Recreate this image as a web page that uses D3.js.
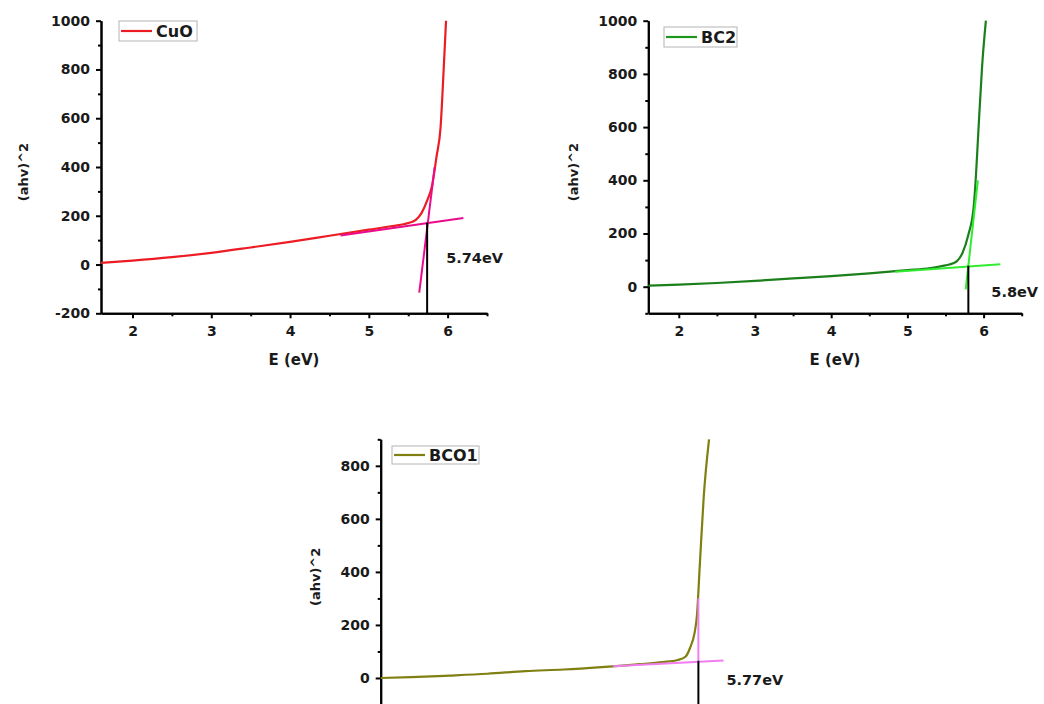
<!DOCTYPE html>
<html>
<head>
<meta charset="utf-8">
<script src="https://cdn.jsdelivr.net/npm/d3@7"></script>
<style>
  body { margin: 0; background: #fff; }
  svg text { font-family: "DejaVu Sans", "Liberation Sans", Arial, sans-serif; font-weight: bold; }
  .axis path, .axis line { stroke: #000; stroke-width: 2; }
  .axis text { font-size: 14px; fill: #1a1a1a; font-family: "DejaVu Sans", sans-serif; }
</style>
</head>
<body>
<div class="chart"></div>
<script>
// Tauc plots: (ahv)^2 vs photon energy, three samples

// CuO
var cuoE   = [1.6, 2.0, 2.5, 3.0, 3.5, 4.0, 4.5, 5.0, 5.3, 5.5, 5.6, 5.67, 5.74, 5.8, 5.86, 5.91, 5.95, 5.98];
var cuoVal = [7, 16, 30, 48, 70, 93, 118, 143, 158, 170, 184, 212, 262, 320, 444, 560, 800, 1000];
var cuoTangents = [[[4.64, 119], [6.2, 191]], [[5.64, -115], [5.836, 400]]];
var cuoGap = [5.74, 172];

// BC2
var bc2E   = [1.6, 2.0, 2.5, 3.0, 3.5, 4.0, 4.5, 5.0, 5.3, 5.5, 5.6, 5.65, 5.72, 5.8, 5.87, 5.9, 5.93, 5.98, 6.03];
var bc2Val = [4, 8, 14, 22, 31, 40, 50, 62, 70, 80, 88, 96, 125, 195, 300, 420, 577, 827, 1000];
var bc2Tangents = [[[4.84, 56], [6.22, 84]], [[5.765, -10], [5.925, 400]]];
var bc2Gap = [5.8, 79];

// BCO1
var bco1E   = [1.6, 2.0, 2.5, 3.0, 3.5, 4.0, 4.5, 5.0, 5.3, 5.5, 5.6, 5.66, 5.72, 5.75, 5.79, 5.84, 5.91];
var bco1Val = [0, 3, 9, 16, 26, 32, 41, 52, 60, 68, 80, 113, 170, 232, 433, 683, 900];
var bco1Tangents = [[[4.65, 44], [6.1, 66]], [[5.77, 65], [5.77, 300]]];
var bco1Gap = [5.77, 65];

// tick labels
var xTicks = [2, 3, 4, 5, 6];
var xMinor = [2.5, 3.5, 4.5, 5.5, 6.5];
var yTicksCuo = [-200, 0, 200, 400, 600, 800, 1000];
var yTicksBc2 = [0, 200, 400, 600, 800, 1000];
var yTicksBco1 = [0, 200, 400, 600, 800];

var gapLabels = ["5.74eV", "5.8eV", "5.77eV"];
var seriesNames = ["CuO", "BC2", "BCO1"];

var svg = d3.select(".chart")
    .append("svg")
    .attr("width", 1044)
    .attr("height", 704);

// panel layout (pixels) and styles
var panels = [
    {name: seriesNames[0], E: cuoE, v: cuoVal, tangents: cuoTangents, gap: cuoGap, label: gapLabels[0],
     left: 101, right: 487, top: 20.7, bottom: 313.3, yDomain: [-200, 1000], yTicks: yTicksCuo,
     curveColor: "#ec1c24", tanColor: "#ea0a8c", legendColor: "#ec1c24", xLabels: true,
     legend: {x: 119, y: 21, w: 78, h: 20}, labelDx: 19, labelY: 263, yTitleX: 23},
    {name: seriesNames[1], E: bc2E, v: bc2Val, tangents: bc2Tangents, gap: bc2Gap, label: gapLabels[1],
     left: 648.3, right: 1021.7, top: 20.7, bottom: 313.3, yDomain: [-100, 1000], yTicks: yTicksBc2,
     curveColor: "#1b7f1b", tanColor: "#30ec30", legendColor: "#1e961e", xLabels: true,
     legend: {x: 664, y: 27, w: 73, h: 20}, labelDx: 23, labelY: 297, yTitleX: 573},
    {name: seriesNames[2], E: bco1E, v: bco1Val, tangents: bco1Tangents, gap: bco1Gap, label: gapLabels[2],
     left: 380.7, right: 754, top: 439.3, bottom: 704.5, yDomain: [-100, 900], yTicks: yTicksBco1,
     curveColor: "#7f7f12", tanColor: "#f07ef0", legendColor: "#7f7f12", xLabels: false,
     legend: {x: 392, y: 446, w: 87, h: 18}, labelDx: 28, labelY: 685, yTitleX: 315}
];

panels.forEach(function(p) {
    var x = d3.scaleLinear().domain([1.6, 6.5]).range([p.left, p.right]);
    var y = d3.scaleLinear().domain(p.yDomain).range([p.bottom, p.top]);

    var g = svg.append("g");

    // minor ticks every 100
    var yMinor = d3.range(p.yDomain[0], p.yDomain[1] + 1, 100)
        .filter(function(d) { return d % 200 != 0; });

    g.append("g")
        .attr("class", "axis")
        .attr("transform", "translate(" + p.left + ",0)")
        .call(d3.axisLeft(y).tickValues(yMinor).tickSize(3).tickSizeOuter(0).tickFormat(""));
    g.append("g")
        .attr("class", "axis")
        .attr("transform", "translate(" + p.left + ",0)")
        .call(d3.axisLeft(y).tickValues(p.yTicks).tickSize(5).tickSizeOuter(0).tickPadding(6)
            .tickFormat(function(d) { return String(d); }));

    g.append("g")
        .attr("class", "axis")
        .attr("transform", "translate(0," + p.bottom + ")")
        .call(d3.axisBottom(x).tickValues(xMinor).tickSize(3).tickSizeOuter(0).tickFormat(""));
    g.append("g")
        .attr("class", "axis")
        .attr("transform", "translate(0," + p.bottom + ")")
        .call(d3.axisBottom(x).tickValues(xTicks).tickSize(5).tickSizeOuter(0).tickPadding(8)
            .tickFormat(function(d) { return p.xLabels ? String(d) : ""; }));

    // axis titles
    if (p.xLabels) {
        g.append("text")
            .attr("x", (p.left + p.right) / 2)
            .attr("y", p.bottom + 52)
            .attr("text-anchor", "middle")
            .style("font-size", "15px")
            .attr("fill", "#1a1a1a")
            .text("E (eV)");
    }
    g.append("text")
        .attr("transform", "translate(" + p.yTitleX + "," + ((p.top + p.bottom) / 2 + 5) + ") rotate(-90)")
        .attr("text-anchor", "middle")
        .attr("dy", "0.35em")
        .style("font-size", "13px")
        .attr("fill", "#1a1a1a")
        .text("(ahv)^2");

    // data curve
    var pts = p.E.map(function(e, i) { return [e, p.v[i]]; });
    var line = d3.line()
        .x(function(d) { return x(d[0]); })
        .y(function(d) { return y(d[1]); })
        .curve(d3.curveMonotoneX);

    g.append("path")
        .datum(pts)
        .attr("d", line)
        .attr("fill", "none")
        .attr("stroke", p.curveColor)
        .attr("stroke-width", 2.2);

    // tangent lines
    var straight = d3.line()
        .x(function(d) { return x(d[0]); })
        .y(function(d) { return y(d[1]); });
    g.selectAll(".tangent")
        .data(p.tangents)
        .enter().append("path")
        .attr("class", "tangent")
        .attr("d", straight)
        .attr("fill", "none")
        .attr("stroke", p.tanColor)
        .attr("stroke-width", 2);

    // band gap marker
    g.append("line")
        .attr("x1", x(p.gap[0]))
        .attr("x2", x(p.gap[0]))
        .attr("y1", p.bottom)
        .attr("y2", y(p.gap[1]))
        .attr("stroke", "#000")
        .attr("stroke-width", 2);

    g.append("text")
        .attr("x", x(p.gap[0]) + p.labelDx)
        .attr("y", p.labelY)
        .style("font-size", "14.5px")
        .attr("fill", "#1a1a1a")
        .text(p.label);

    // legend
    var lg = g.append("g").attr("transform", "translate(" + p.legend.x + "," + p.legend.y + ")");
    lg.append("rect")
        .attr("width", p.legend.w)
        .attr("height", p.legend.h)
        .attr("fill", "#fff")
        .attr("stroke", "#b4b4b4")
        .attr("stroke-width", 1);
    lg.append("line")
        .attr("x1", 2)
        .attr("x2", 33)
        .attr("y1", p.legend.h / 2)
        .attr("y2", p.legend.h / 2)
        .attr("stroke", p.legendColor)
        .attr("stroke-width", 2.2);
    lg.append("text")
        .attr("x", 37)
        .attr("y", p.legend.h / 2)
        .attr("dy", "0.36em")
        .style("font-size", "16px")
        .attr("fill", "#1a1a1a")
        .text(p.name);
});
</script>
</body>
</html>
